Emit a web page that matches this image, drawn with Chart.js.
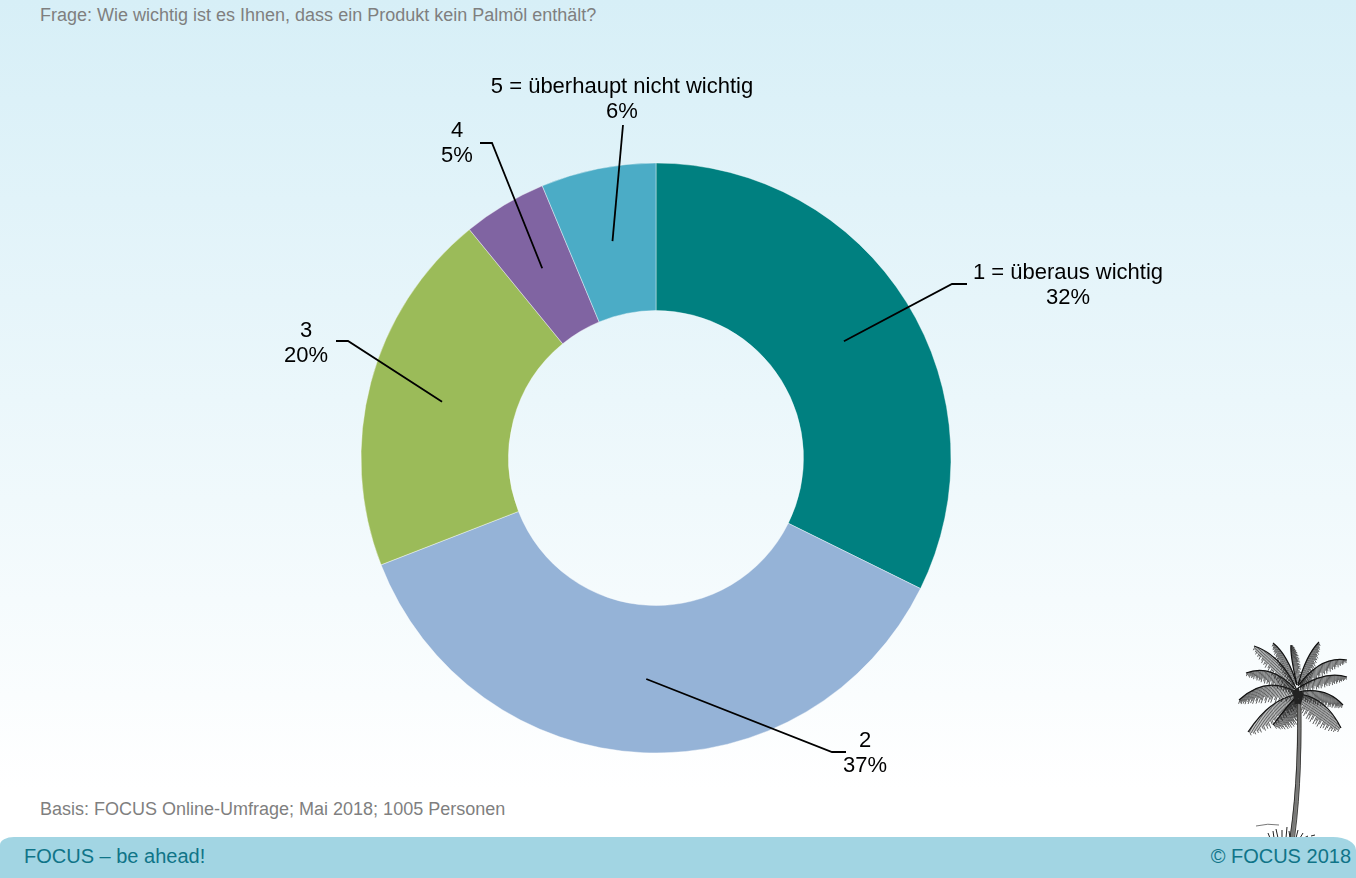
<!DOCTYPE html>
<html lang="de">
<head>
<meta charset="utf-8">
<title>Palmöl</title>
<script src="https://cdn.jsdelivr.net/npm/chart.js@4/dist/chart.umd.min.js"></script>
<style>
html,body{margin:0;padding:0;width:1356px;height:878px;overflow:hidden;}
body{position:relative;background:linear-gradient(to bottom,#d7eff7 0px,#e6f5fa 300px,#f5fbfd 600px,#ffffff 790px,#ffffff 878px);font-family:"Liberation Sans",Arial,sans-serif;}
#c{position:absolute;left:0;top:0;}
.t{position:absolute;white-space:nowrap;line-height:1;}
.note{color:#7f7f7f;font-size:18px;left:40px;}
#band{position:absolute;left:0;top:837px;width:1356px;height:41px;background:#a2d5e3;border-radius:14px 23px 0 0 / 8px 13px 0 0;}
.foot{color:#0f7488;font-size:20px;top:846px;}
#palm{position:absolute;left:1216px;top:630px;}
</style>
</head>
<body>
<div class="t note" style="top:6px">Frage: Wie wichtig ist es Ihnen, dass ein Produkt kein Palmöl enthält?</div>
<div class="t note" style="top:800px">Basis: FOCUS Online-Umfrage; Mai 2018; 1005 Personen</div>
<svg id="palm" width="140" height="210" viewBox="0 0 140 210"></svg>
<div id="band"></div>
<div class="t foot" style="left:24px">FOCUS – be ahead!</div>
<div class="t foot" style="right:5px">© FOCUS 2018</div>
<canvas id="c" width="1356" height="878"></canvas>
<script>
const categories = ["1 = überaus wichtig", "2", "3", "4", "5 = überhaupt nicht wichtig"];
const sliceValues = [32.3, 36.8, 20.0, 4.6, 6.3];
const percentLabels = ["32%", "37%", "20%", "5%", "6%"];
const sliceColors = ["#008080", "#95b3d7", "#9bbb59", "#8064a2", "#4bacc6"];

// Leader line bends and label centres (offsets from the doughnut centre)
const leaderPoints = [
  [[296, -174], [311, -174]],
  [[176, 294], [190, 294]],
  [[-308, -117], [-320, -117]],
  [[-164, -315], [-176, -315]],
  [[-33, -333]]
];
const labelCentres = [[412, -185], [209, 283], [-350, -127], [-199, -327], [-34, -371]];

const leaderPlugin = {
  id: "leaders",
  afterDatasetsDraw(chart) {
    const ctx = chart.ctx;
    const arcs = chart.getDatasetMeta(0).data;
    ctx.save();
    arcs.forEach((arc, i) => {
      const p = arc.getProps(["x", "y", "startAngle", "endAngle", "innerRadius", "outerRadius"], true);
      const a = (p.startAngle + p.endAngle) / 2, r = (p.innerRadius + p.outerRadius) / 2;
      ctx.beginPath();
      ctx.moveTo(p.x + Math.cos(a) * r, p.y + Math.sin(a) * r);
      leaderPoints[i].forEach(q => ctx.lineTo(p.x + q[0], p.y + q[1]));
      ctx.strokeStyle = "#000";
      ctx.lineWidth = 1.8;
      ctx.stroke();
      ctx.fillStyle = "#000";
      ctx.font = '22px "Liberation Sans", Arial, sans-serif';
      ctx.textAlign = "center";
      ctx.textBaseline = "middle";
      ctx.fillText(categories[i], p.x + labelCentres[i][0], p.y + labelCentres[i][1]);
      ctx.fillText(percentLabels[i], p.x + labelCentres[i][0], p.y + labelCentres[i][1] + 25);
    });
    ctx.restore();
  }
};

new Chart(document.getElementById("c"), {
  type: "doughnut",
  data: { labels: categories, datasets: [{ data: sliceValues, backgroundColor: sliceColors, borderColor: "rgba(255,255,255,0.4)", borderWidth: 1 }] },
  options: {
    responsive: false, animation: false, devicePixelRatio: 1, cutout: "50%",
    layout: { padding: { left: 360.5, right: 404.5, top: 162.5, bottom: 124.5 } },
    plugins: { legend: { display: false }, tooltip: { enabled: false } }
  },
  plugins: [leaderPlugin]
});

// Decorative palm drawn as an inline SVG
(function () {
  const svg = document.getElementById("palm");
  const NS = "http://www.w3.org/2000/svg";
  function line(d, w, col) {
    const e = document.createElementNS(NS, "path");
    e.setAttribute("d", d); e.setAttribute("fill", "none");
    e.setAttribute("stroke", col || "#1a1a1a"); e.setAttribute("stroke-width", w);
    svg.appendChild(e);
  }
  // base, control, tip, barb length, barb direction
  const fronds = [
    [[80,62],[50,45],[23,70],18,[-0.35,1]],
    [[80,60],[55,33],[30,43],13,[-0.2,1]],
    [[80,58],[65,25],[38,16],14,[-0.5,1]],
    [[81,55],[72,25],[57,13],10,[-0.6,1]],
    [[81,55],[74,25],[75,15],8,[1,0.2]],
    [[82,55],[90,25],[103,12],11,[0.6,1]],
    [[82,56],[105,25],[131,30],12,[0.1,1]],
    [[82,58],[110,40],[131,47],11,[0.1,1]],
    [[82,62],[110,56],[127,75],14,[-0.15,1]],
    [[84,64],[110,68],[125,98],20,[-0.5,1]],
    [[80,65],[55,68],[32,102],18,[0.4,1]],
    [[80,67],[72,75],[57,95],17,[0.6,1]]
  ];
  const jag = [1, 0.8, 0.95, 0.7, 1, 0.85, 0.65];
  fronds.forEach(f => {
    const [a, c, b, L, d] = f;
    for (let k = 2; k <= 42; k++) {
      const t = k / 43, u = 1 - t;
      const x = u*u*a[0] + 2*u*t*c[0] + t*t*b[0];
      const y = u*u*a[1] + 2*u*t*c[1] + t*t*b[1];
      const len = jag[k % 7] * L * Math.pow(Math.sin(Math.PI * Math.min(1, t * 0.85 + 0.12)), 0.7);
      line(`M${x.toFixed(1)} ${y.toFixed(1)}l${(d[0]*len).toFixed(1)} ${(d[1]*len).toFixed(1)}`, 0.7, "#1c1c1c");
    }
    line(`M${a[0]} ${a[1]}Q${c[0]} ${c[1]} ${b[0]} ${b[1]}`, 1.2, "#111");
  });
  line("M83 63C84 110 83 160 76 208", 4.5, "#8b8b85");
  line("M81.5 63C82.5 110 81 160 74 208", 0.9, "#222");
  line("M84.5 63C85.5 110 85 160 78.5 208", 0.9, "#333");
  line("M83 63C84 110 83 160 76 208", 2, "#777");
  line("M78 60l3 14M86 62l-3 12M81 58l2 10", 4, "#222");
  line("M40 196Q52 193 63 195", 0.8, "#555");
  for (const g of [[54,208,-2,-5],[58,208,-1,-7],[62,208,-2,-9],[66,208,0,-8],[70,208,1,-11],[74,208,-1,-7],[80,208,2,-8],[84,208,3,-5],[88,208,4,-2],[95,206,4,-1]])
    line(`M${g[0]} ${g[1]}l${g[2]} ${g[3]}`, 1, "#222");
})();
</script>
</body>
</html>
